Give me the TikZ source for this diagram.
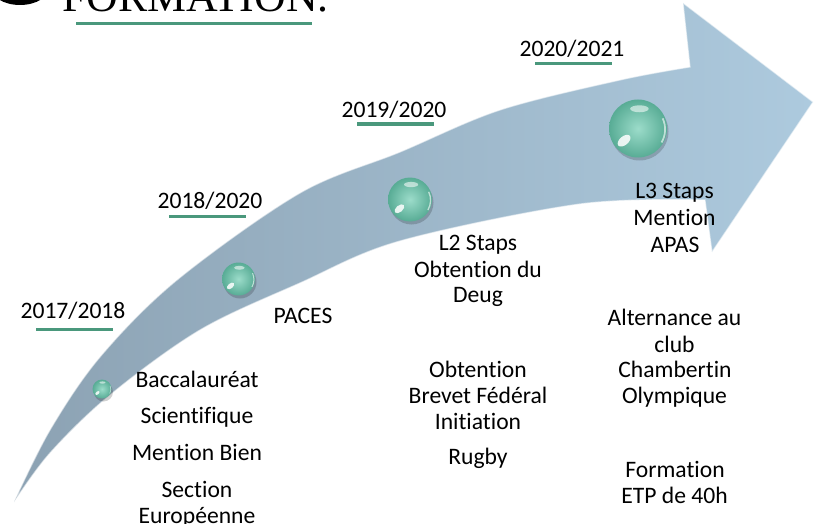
\documentclass[tikz,border=0pt]{standalone}
\usepackage{fontspec}
\setmainfont{Carlito}[Ligatures=NoCommon]
\newfontfamily\titlefont{Liberation Serif}
\definecolor{bandA}{HTML}{8CA2B3}
\definecolor{bandB}{HTML}{ADCADE}
\definecolor{uline}{HTML}{4A987C}
\definecolor{beadL}{HTML}{9CDCCA}
\definecolor{beadD}{HTML}{58AC95}
\newcommand\mybead[4]{%
  \fill[black,opacity=.18] (#2+1.5,#3+3) circle[radius=#4];
  \node[bead, minimum size=2*#4pt] (#1) at (#2,#3) {};
  \fill[white,opacity=.85,rotate around={40:(#2-0.48*#4,#3+0.42*#4)}] (#2-0.48*#4,#3+0.42*#4) ellipse[x radius=0.26*#4, y radius=0.15*#4];
  \fill[white,opacity=.55] (#2+0.05*#4,#3-0.68*#4) ellipse[x radius=0.32*#4, y radius=0.12*#4];
  \draw[white,opacity=.6,line width=0.06*#4pt] (#2+0.85*#4,#3-0.35*#4) arc[start angle=-25, end angle=30, radius=0.9*#4];
}
\begin{document}
\begin{tikzpicture}[x=1pt,y=-1pt,
  lbl/.style={inner sep=0, anchor=base, font=\fontsize{23.6}{26}\selectfont},
  uln/.style={draw=uline, line width=3.4pt},
  bead/.style={circle, inner sep=0, shading=radial, inner color=beadL, outer color=beadD}]
\useasboundingbox (0,0) rectangle (819,524);
\fill[white] (0,0) rectangle (819,524);
% arrow
\shadedraw[left color=bandA, right color=bandB, draw=white, draw opacity=0.55, line width=1.2pt]
  (14,502) -- plot[smooth, tension=0.55] coordinates {(14,502) (50,430) (100,357) (177,280) (300,193) (400,152) (500,110) (620,80) (690,67)}
  -- (683,3) -- (813,102) -- (712,252) -- (705,200)
  -- plot[smooth, tension=0.55] coordinates {(705,200) (580,204) (400,241) (300,283) (200,330) (110,395) (50,453) (14,502)} -- cycle;
% beads
\mybead{b1}{102}{389}{9.5}
\mybead{b2}{238.5}{279}{16.5}
\mybead{b3}{410}{199.5}{22}
\mybead{b4}{638}{128.5}{29}
% title
\fill (20,-14) ellipse[x radius=30, y radius=19];
\node[inner sep=0, anchor=base west, font=\titlefont\fontsize{43.8}{44}\selectfont] (title) at (62,12) {FORMATION.};
\draw[uln, line width=3.5pt] (76,23.5) -- (312,23.5);
% dates
\node[lbl] (d1) at (73,318) {2017/2018};
\draw[uln] (36,329.5) -- (113,329.5);
\node[lbl] (d2) at (210,208) {2018/2020};
\draw[uln] (169,216.7) -- (246,216.7);
\node[lbl] (d3) at (394,118) {2019/2020};
\draw[uln] (357,124) -- (434,124);
\node[lbl] (d4) at (572,57) {2020/2021};
\draw[uln] (535,63.5) -- (612,63.5);
% block A
\node[lbl] (a1) at (197,387) {Baccalauréat};
\node[lbl] (a2) at (197,423) {Scientifique};
\node[lbl] (a3) at (197,460) {Mention Bien};
\node[lbl] (a4) at (197,497) {Section};
\node[lbl] (a5) at (197,523) {Européenne};
% PACES
\node[lbl] (p1) at (303,323) {PACES};
% block B
\node[lbl] (l2a) at (478,250) {L2 Staps};
\node[lbl] (l2b) at (478,277) {Obtention du};
\node[lbl] (l2c) at (478,302) {Deug};
% block C
\node[lbl] (c1) at (478,377) {Obtention};
\node[lbl] (c2) at (478,403) {Brevet Fédéral};
\node[lbl] (c3) at (478,429.5) {Initiation};
\node[lbl] (c4) at (478,464) {Rugby};
% block D
\node[lbl] (l3a) at (674.5,198) {L3 Staps};
\node[lbl] (l3b) at (674.5,225) {Mention};
\node[lbl] (l3c) at (675,252) {APAS};
% block E
\node[lbl] (e1) at (674.5,325) {Alternance au};
\node[lbl] (e2) at (674.5,352) {club};
\node[lbl] (e3) at (675,377) {Chambertin};
\node[lbl] (e4) at (674.5,403) {Olympique};
\node[lbl] (f1) at (675,477) {Formation};
\node[lbl] (f2) at (674.5,503) {ETP de 40h};
\end{tikzpicture}
\end{document}
